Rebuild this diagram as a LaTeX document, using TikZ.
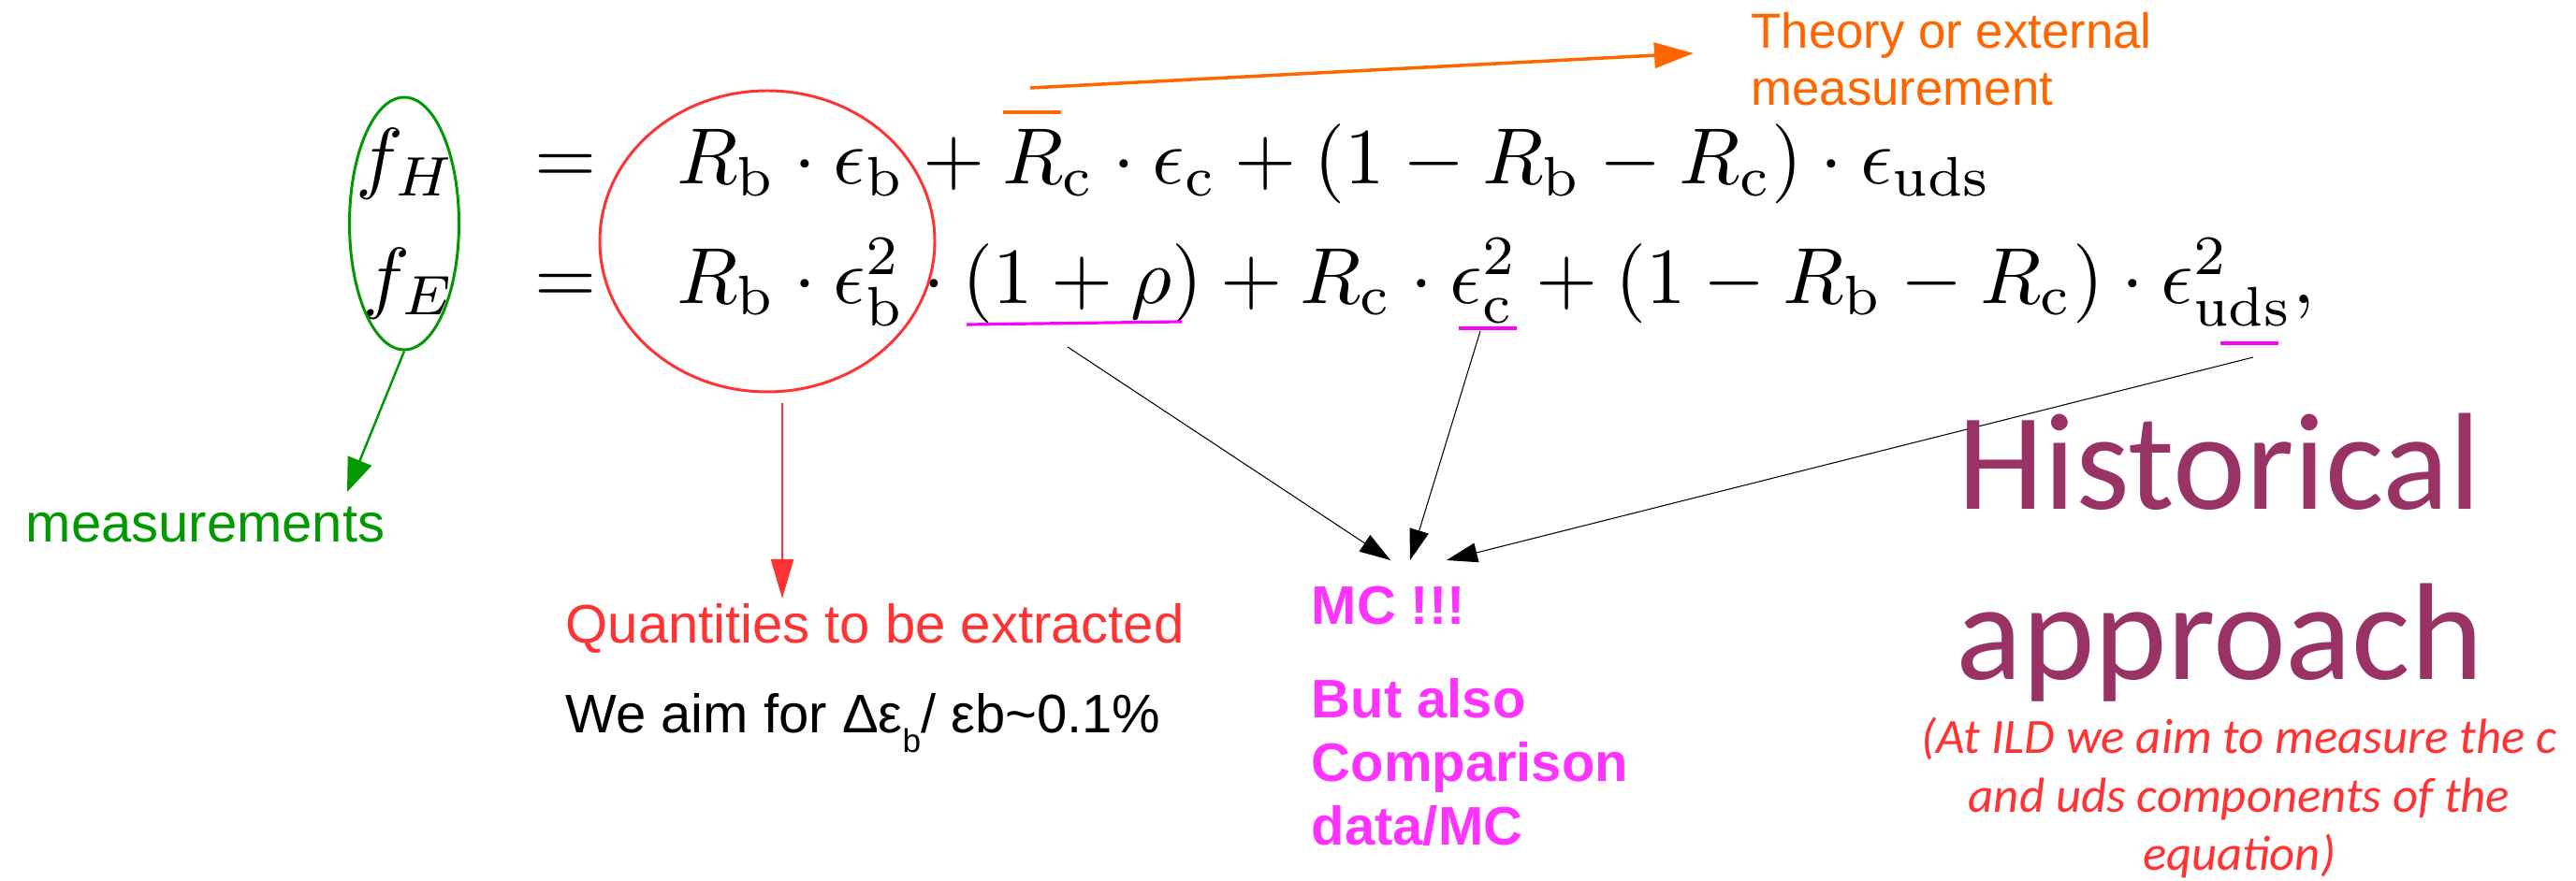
\documentclass[tikz,border=0pt]{standalone}
\usepackage[no-math]{fontspec}
\setmainfont{Liberation Sans}
\newfontfamily\carlito{Carlito}
\usepackage{graphicx}
\usetikzlibrary{arrows.meta,shapes.geometric}

\definecolor{mgreen}{HTML}{009900}
\definecolor{mred}{HTML}{FF3333}
\definecolor{morange}{HTML}{FF6600}
\definecolor{mpink}{HTML}{FF33FF}
\definecolor{mmagenta}{HTML}{FF00FF}
\definecolor{mpurple}{HTML}{993366}

\tikzset{
  ulmark/.style={mmagenta, line width=0.9pt},
  tomc/.style={-{Triangle[length=3.3mm,width=2.1mm]}, line width=0.3pt},
  lbl/.style={inner sep=0, font=\fontsize{16.5}{19.8}\selectfont},
}

\begin{document}
\begin{tikzpicture}
  \fill[white] (0,0) rectangle (27.53,-9.42);
  \useasboundingbox (0,0) rectangle (27.53,-9.42);

  %% 式
  \node[anchor=west, inner sep=0] (eqn) at (3.80,-2.40) {\scalebox{2.42}{$\begin{array}{@{}rcl@{}}
    f_H & = & R_{\mathrm b}\cdot\epsilon_{\mathrm b}+R_{\mathrm c}\cdot\epsilon_{\mathrm c}
      +(1-R_{\mathrm b}-R_{\mathrm c})\cdot\epsilon_{\mathrm{uds}}\\[3pt]
    f_E & = & R_{\mathrm b}\cdot\epsilon^2_{\mathrm b}\cdot(1+\rho)+R_{\mathrm c}\cdot\epsilon^2_{\mathrm c}
      +(1-R_{\mathrm b}-R_{\mathrm c})\cdot\epsilon^2_{\mathrm{uds}},
  \end{array}$}};

  %% 測定量（緑）
  \node[draw=mgreen, line width=0.85pt, ellipse, inner sep=0,
    minimum width=1.17cm, minimum height=2.70cm] (fell) at (4.32,-2.39) {};
  \coordinate (gtip) at (3.71,-5.26);
  \draw[mgreen, line width=0.7pt, -{Triangle[length=3.6mm,width=2.7mm]}] (fell.south) -- (gtip);
  \node[lbl, mgreen, anchor=base west] (meas) at (0.27,-5.80) {measurements};

  %% 抽出する量（赤）
  \node[draw=mred, line width=0.85pt, ellipse, inner sep=0,
    minimum width=3.58cm, minimum height=3.22cm] (rbell) at (8.20,-2.58) {};
  \coordinate (rtop) at (8.36,-4.31);
  \coordinate (rtip) at (8.36,-6.40);
  \draw[mred, line width=0.7pt, -{Triangle[length=4.2mm,width=2.4mm]}] (rtop) -- (rtip);
  \node[lbl, mred, anchor=base west] (quant) at (6.04,-6.88) {Quantities to be extracted};
  \node[lbl, anchor=base west] (aim) at (6.04,-7.84)
    {We aim for Δε\raisebox{-0.36em}{\fontsize{10}{12}\selectfont b}/ εb\textasciitilde 0.1\%};

  %% 外部入力（オレンジ）
  \coordinate (rcbarL) at (10.72,-1.20);
  \coordinate (rcbarR) at (11.34,-1.20);
  \draw[morange, line width=1pt] (rcbarL) -- (rcbarR);
  \coordinate (ostart) at (11.01,-0.94);
  \coordinate (otip) at (18.10,-0.57);
  \draw[morange, line width=1pt, -{Triangle[length=4.2mm,width=2.7mm]}] (ostart) -- (otip);
  \node[inner sep=0, morange, anchor=base west, align=left,
    font=\fontsize{15}{17.6}\selectfont] (theory) at (18.71,-1.13) {Theory or external\\measurement};

  %% MC（マゼンタ）
  \coordinate (ulA1) at (10.33,-3.47);
  \coordinate (ulA2) at (12.63,-3.44);
  \coordinate (ulB1) at (15.59,-3.51);
  \coordinate (ulB2) at (16.21,-3.51);
  \coordinate (ulC1) at (23.73,-3.67);
  \coordinate (ulC2) at (24.35,-3.67);
  \draw[ulmark] (ulA1) -- (ulA2);
  \draw[ulmark] (ulB1) -- (ulB2);
  \draw[ulmark] (ulC1) -- (ulC2);
  \coordinate (fromA) at (11.41,-3.71);
  \coordinate (fromB) at (15.82,-3.54);
  \coordinate (fromC) at (24.08,-3.82);
  \coordinate (mcA) at (14.86,-5.99);
  \coordinate (mcB) at (15.07,-5.99);
  \coordinate (mcC) at (15.46,-5.99);
  \draw[tomc] (fromA) -- (mcA);
  \draw[tomc] (fromB) -- (mcB);
  \draw[tomc] (fromC) -- (mcC);
  \node[inner sep=0, mpink, anchor=base west, align=left,
    font=\bfseries\fontsize{16.5}{19.4}\selectfont] (mc) at (14.01,-9.04)
    {MC !!!\\[3.2mm]But also\\Comparison\\data/MC};

  %% 右側
  \node[inner sep=0, mpurple, anchor=base, align=center,
    font=\carlito\fontsize{42}{52}\selectfont] (hist) at (23.72,-7.27) {Historical\\approach};
  \node[inner sep=0, mred, anchor=base, align=center,
    font=\carlito\itshape\fontsize{15}{17.9}\selectfont] (ild) at (23.93,-9.31)
    {(At ILD we aim to measure the c\\and uds components of the\\equation)};
\end{tikzpicture}
\end{document}
